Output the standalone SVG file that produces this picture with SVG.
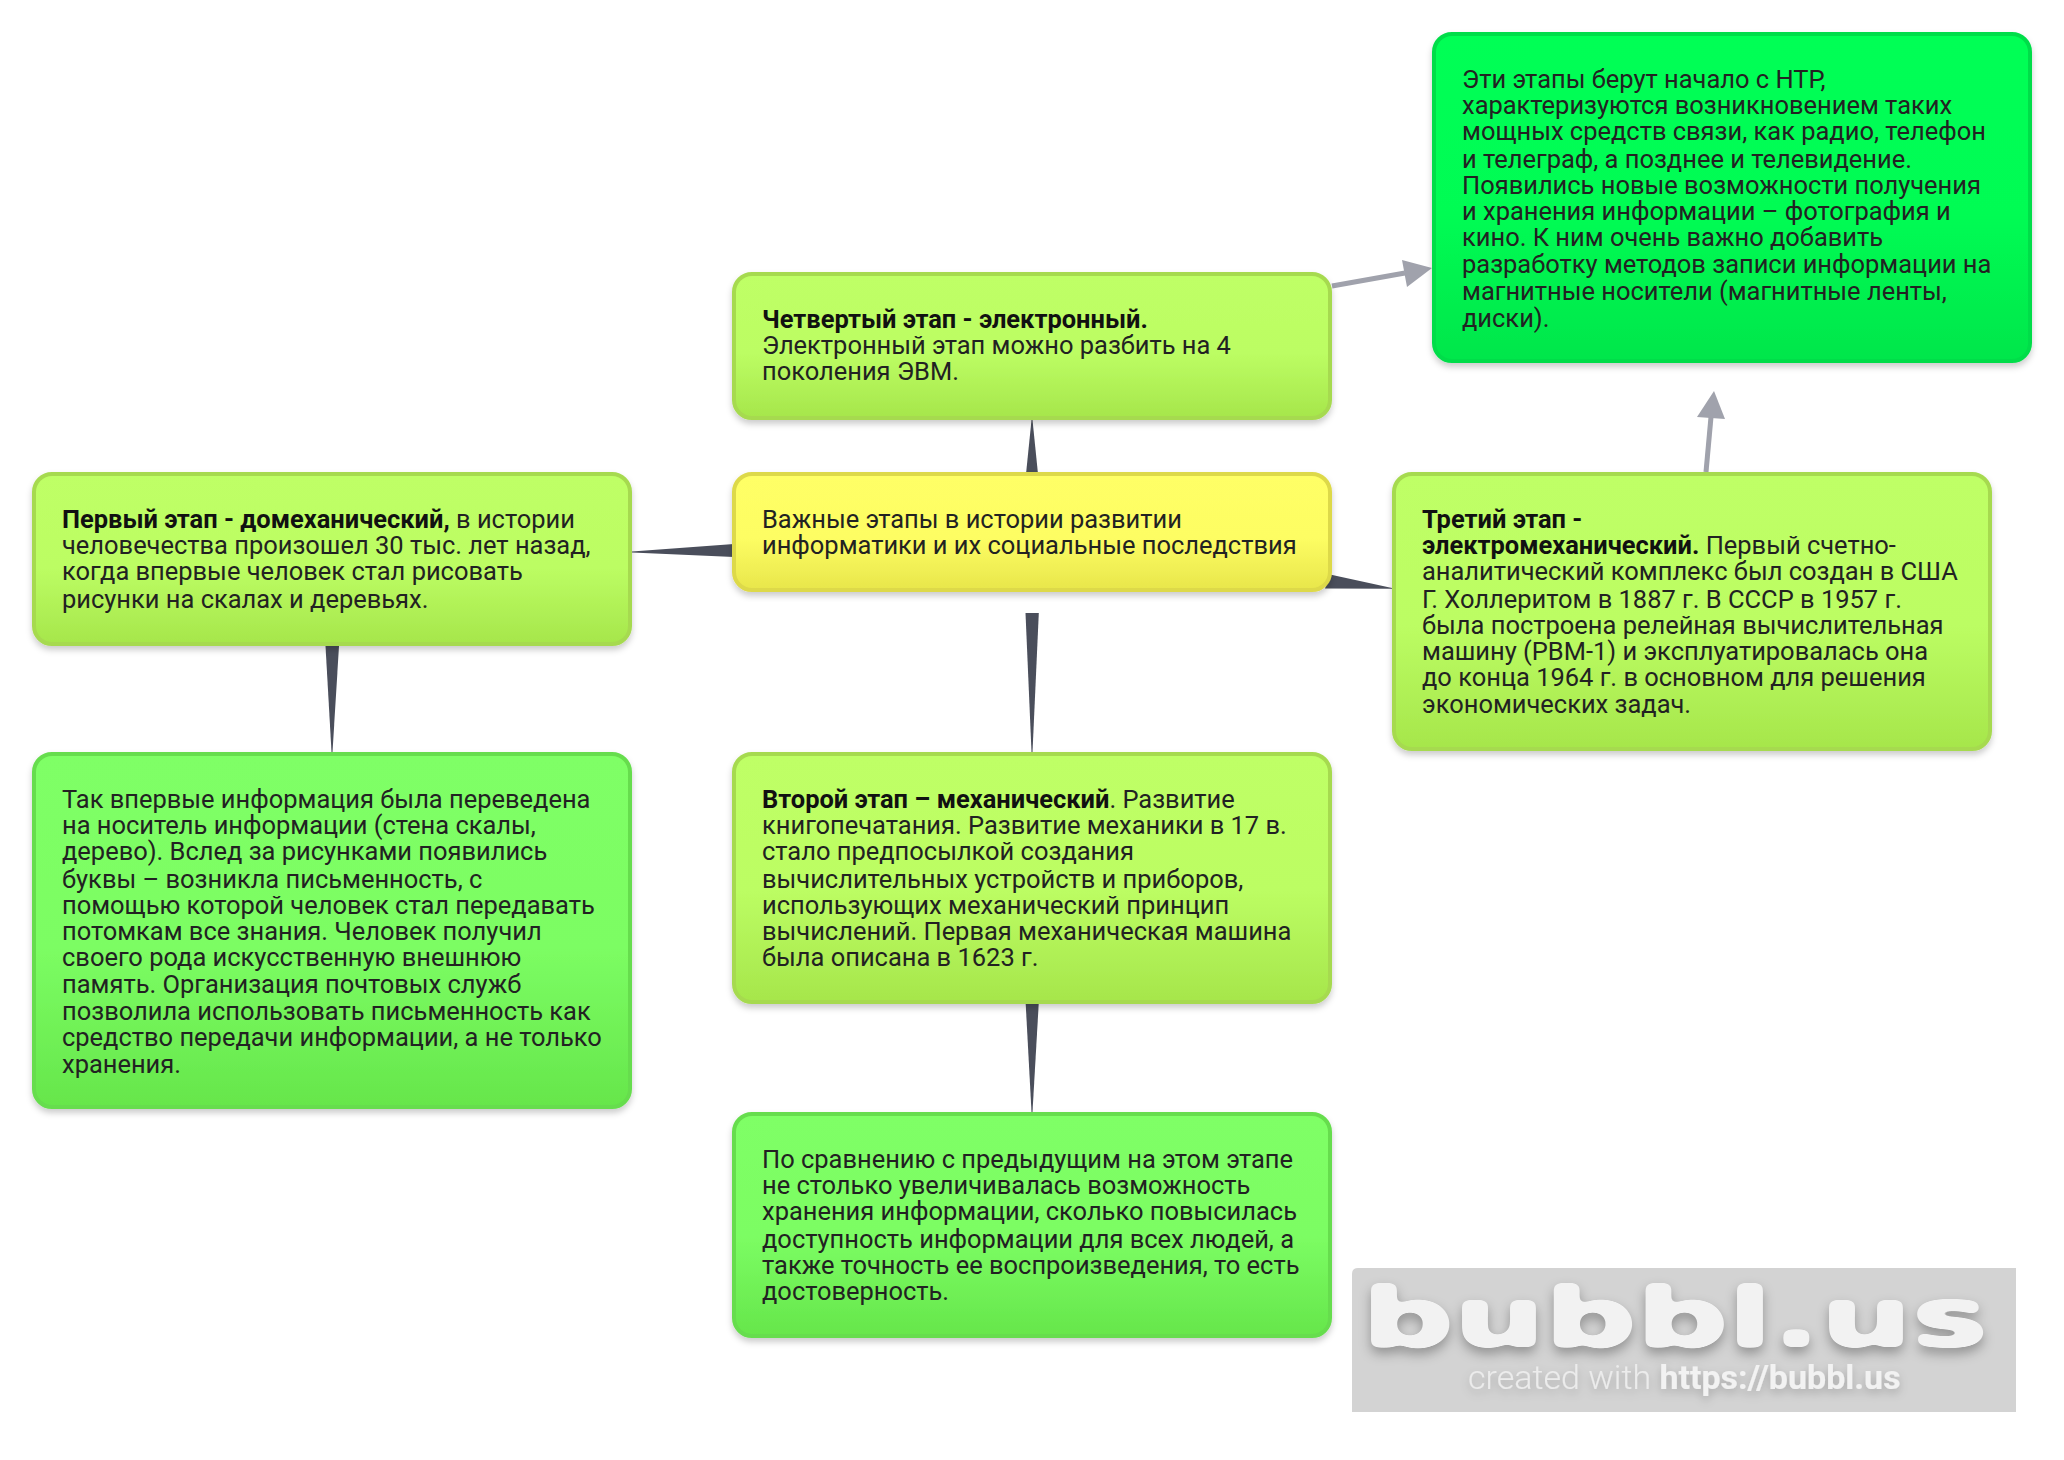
<svg xmlns="http://www.w3.org/2000/svg" width="2064" height="1460" viewBox="0 0 2064 1460">
<defs>
<linearGradient id="gLime" x1="0" y1="0" x2="0" y2="1"><stop offset="0" stop-color="#bfff66"/><stop offset="0.55" stop-color="#bcfd63"/><stop offset="1" stop-color="#a6e64b"/></linearGradient>
<linearGradient id="gYellow" x1="0" y1="0" x2="0" y2="1"><stop offset="0" stop-color="#ffff66"/><stop offset="0.55" stop-color="#fdfd63"/><stop offset="1" stop-color="#e8e64b"/></linearGradient>
<linearGradient id="gVivid" x1="0" y1="0" x2="0" y2="1"><stop offset="0" stop-color="#00ff55"/><stop offset="0.55" stop-color="#00fc53"/><stop offset="1" stop-color="#00e64b"/></linearGradient>
<linearGradient id="gGreen" x1="0" y1="0" x2="0" y2="1"><stop offset="0" stop-color="#7fff66"/><stop offset="0.55" stop-color="#7cfd63"/><stop offset="1" stop-color="#66e64b"/></linearGradient>
<filter id="sh" x="-5%" y="-5%" width="110%" height="115%"><feDropShadow dx="0" dy="4" stdDeviation="3" flood-color="#000" flood-opacity="0.2"/></filter>
<filter id="wm" x="-5%" y="-20%" width="110%" height="160%" color-interpolation-filters="sRGB">
<feGaussianBlur in="SourceAlpha" stdDeviation="5 3" result="bl"/>
<feComponentTransfer in="bl" result="th"><feFuncA type="linear" slope="12" intercept="-5"/></feComponentTransfer>
<feFlood flood-color="#f2f2f2"/>
<feComposite in2="th" operator="in" result="shape"/>
<feDropShadow in="shape" dx="0" dy="6" stdDeviation="6" flood-color="#000" flood-opacity="0.3"/>
</filter>
<filter id="wm2" x="-5%" y="-20%" width="110%" height="150%"><feDropShadow dx="0" dy="4" stdDeviation="5" flood-color="#000" flood-opacity="0.22"/></filter>
<style>
.b{stroke-width:4}
.lime{fill:url(#gLime);stroke:#a6da50}
.yel{fill:url(#gYellow);stroke:#ddd94a}
.viv{fill:url(#gVivid);stroke:#00dd4a}
.grn{fill:url(#gGreen);stroke:#66dd4d}
text.t{font-family:Roboto,"Noto Sans",sans-serif;font-size:25.46px;fill:#222}
.s{font-weight:700;fill:#111}
.w{fill:#4a4e5b}
.a{fill:#a0a2ac}
.al{stroke:#a0a2ac;stroke-width:5;fill:none}
</style>
</defs>
<rect width="2064" height="1460" fill="#fff"/>
<g id="connectors">
<polygon class="w" points="1026,474 1038,474 1032.5,420 1031.5,420"/>
<polygon class="w" points="734,544 734,557 632,552.5 632,551.5"/>
<polygon class="w" points="1330,574.5 1325,588.5 1392,588.8 1392,588"/>
<polygon class="w" points="1025.5,613 1038.8,613 1032.5,752 1031.5,752"/>
<polygon class="w" points="325.5,646 339,646 332.5,752 331.5,752"/>
<polygon class="w" points="1025.7,1004 1038.7,1004 1032.5,1112 1031.5,1112"/>
<line class="al" x1="1332" y1="286" x2="1405" y2="273"/>
<polygon class="a" points="1432,268 1402,260 1407,287"/>
<line class="al" x1="1706" y1="472" x2="1711" y2="417"/>
<polygon class="a" points="1714,391 1697,417 1725,419"/>
</g>
<g id="node-top">
<rect class="b viv" x="1434" y="34" width="596" height="327" rx="18" filter="url(#sh)"/>
<text class="t"><tspan x="1462" y="88">Эти этапы берут начало с НТР,</tspan><tspan x="1462" y="114">характеризуются возникновением таких</tspan><tspan x="1462" y="140">мощных средств связи, как радио, телефон</tspan><tspan x="1462" y="168">и телеграф, а позднее и телевидение.</tspan><tspan x="1462" y="194">Появились новые возможности получения</tspan><tspan x="1462" y="220">и хранения информации – фотография и</tspan><tspan x="1462" y="246">кино. К ним очень важно добавить</tspan><tspan x="1462" y="273">разработку методов записи информации на</tspan><tspan x="1462" y="300">магнитные носители (магнитные ленты,</tspan><tspan x="1462" y="327">диски).</tspan></text>
</g>
<g id="node-fourth">
<rect class="b lime" x="734" y="274" width="596" height="144" rx="18" filter="url(#sh)"/>
<text class="t"><tspan class="s" x="762" y="328">Четвертый этап - электронный.</tspan><tspan x="762" y="354">Электронный этап можно разбить на 4</tspan><tspan x="762" y="380">поколения ЭВМ.</tspan></text>
</g>
<g id="node-center">
<rect class="b yel" x="734" y="474" width="596" height="116" rx="18" filter="url(#sh)"/>
<text class="t"><tspan x="762" y="528">Важные этапы в истории развитии</tspan><tspan x="762" y="554">информатики и их социальные последствия</tspan></text>
</g>
<g id="node-first">
<rect class="b lime" x="34" y="474" width="596" height="170" rx="18" filter="url(#sh)"/>
<text class="t"><tspan class="s" x="62" y="528">Первый этап - домеханический,</tspan> в истории<tspan x="62" y="554">человечества произошел 30 тыс. лет назад,</tspan><tspan x="62" y="580">когда впервые человек стал рисовать</tspan><tspan x="62" y="608">рисунки на скалах и деревьях.</tspan></text>
</g>
<g id="node-first-note">
<rect class="b grn" x="34" y="754" width="596" height="353" rx="18" filter="url(#sh)"/>
<text class="t"><tspan x="62" y="808">Так впервые информация была переведена</tspan><tspan x="62" y="834">на носитель информации (стена скалы,</tspan><tspan x="62" y="860">дерево). Вслед за рисунками появились</tspan><tspan x="62" y="888">буквы – возникла письменность, с</tspan><tspan x="62" y="914">помощью которой человек стал передавать</tspan><tspan x="62" y="940">потомкам все знания. Человек получил</tspan><tspan x="62" y="966">своего рода искусственную внешнюю</tspan><tspan x="62" y="993">память. Организация почтовых служб</tspan><tspan x="62" y="1020">позволила использовать письменность как</tspan><tspan x="62" y="1046">средство передачи информации, а не только</tspan><tspan x="62" y="1073">хранения.</tspan></text>
</g>
<g id="node-second">
<rect class="b lime" x="734" y="754" width="596" height="248" rx="18" filter="url(#sh)"/>
<text class="t"><tspan class="s" x="762" y="808">Второй этап – механический</tspan>. Развитие<tspan x="762" y="834">книгопечатания. Развитие механики в 17 в.</tspan><tspan x="762" y="860">стало предпосылкой создания</tspan><tspan x="762" y="888">вычислительных устройств и приборов,</tspan><tspan x="762" y="914">использующих механический принцип</tspan><tspan x="762" y="940">вычислений. Первая механическая машина</tspan><tspan x="762" y="966">была описана в 1623 г.</tspan></text>
</g>
<g id="node-second-note">
<rect class="b grn" x="734" y="1114" width="596" height="222" rx="18" filter="url(#sh)"/>
<text class="t"><tspan x="762" y="1168">По сравнению с предыдущим на этом этапе</tspan><tspan x="762" y="1194">не столько увеличивалась возможность</tspan><tspan x="762" y="1220">хранения информации, сколько повысилась</tspan><tspan x="762" y="1248">доступность информации для всех людей, а</tspan><tspan x="762" y="1274">также точность ее воспроизведения, то есть</tspan><tspan x="762" y="1300">достоверность.</tspan></text>
</g>
<g id="node-third">
<rect class="b lime" x="1394" y="474" width="596" height="275" rx="18" filter="url(#sh)"/>
<text class="t"><tspan class="s" x="1422" y="528">Третий этап -</tspan><tspan class="s" x="1422" y="554">электромеханический.</tspan> Первый счетно-<tspan x="1422" y="580">аналитический комплекс был создан в США</tspan><tspan x="1422" y="608">Г. Холлеритом в 1887 г. В СССР в 1957 г.</tspan><tspan x="1422" y="634">была построена релейная вычислительная</tspan><tspan x="1422" y="660">машину (РВМ-1) и эксплуатировалась она</tspan><tspan x="1422" y="686">до конца 1964 г. в основном для решения</tspan><tspan x="1422" y="713">экономических задач.</tspan></text>
</g>
<g id="watermark">
<path d="M1358 1268H2016V1412H1352V1274Q1352 1268 1358 1268Z" fill="#d3d3d3"/>
<text x="1362" y="1346" textLength="626" lengthAdjust="spacingAndGlyphs" font-family="DejaVu Sans,sans-serif" font-weight="700" font-size="82" fill="#f2f2f2" stroke="#f2f2f2" stroke-width="1.5" stroke-linejoin="round" filter="url(#wm)">bubbl.us</text>
<text x="1468" y="1389" font-family="Roboto,sans-serif" font-size="34" fill="#ececec" font-weight="300" filter="url(#wm2)">created with <tspan font-weight="700" fill="#f2f2f2">https://bubbl.us</tspan></text>
</g>
</svg>
